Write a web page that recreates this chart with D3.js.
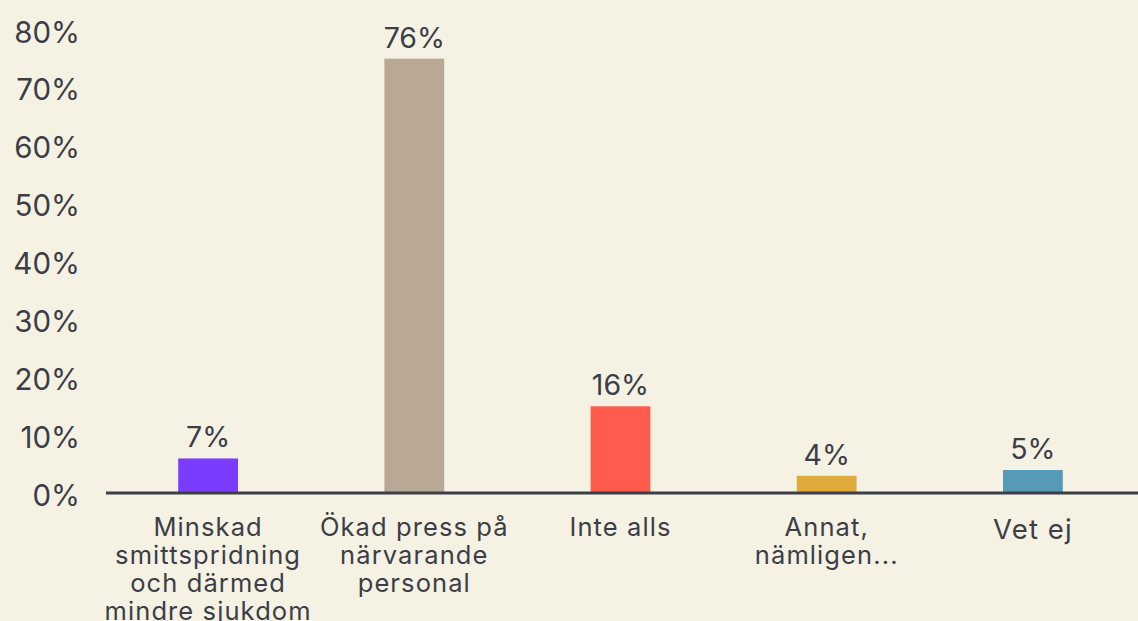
<!DOCTYPE html>
<html>
<head>
<meta charset="utf-8">
<script src="https://cdn.jsdelivr.net/npm/d3@7"></script>
<style>
  html, body { margin: 0; padding: 0; background: #f5f2e3; }
  svg { display: block; }
  text { font-family: "Inter", "Open Sans", sans-serif; fill: #3b3e47; }
</style>
</head>
<body>
<div id="chart"></div>
<script>
const categories = [
  "Minskad smittspridning och därmed mindre sjukdom",
  "Ökad press på närvarande personal",
  "Inte alls",
  "Annat, nämligen...",
  "Vet ej"
];
const categoryLines = [
  ["Minskad", "smittspridning", "och därmed", "mindre sjukdom"],
  ["Ökad press på", "närvarande", "personal"],
  ["Inte alls"],
  ["Annat,", "nämligen..."],
  ["Vet ej"]
];
const values = [7, 76, 16, 4, 5];
const valueLabels = ["7%", "76%", "16%", "4%", "5%"];
const colors = ["#7a3cff", "#b8a895", "#ff5c4d", "#dfaa3b", "#559bb8"];
const yTicks = [0, 10, 20, 30, 40, 50, 60, 70, 80];

const W = 1138, H = 621;
const svg = d3.select("#chart").append("svg").attr("width", W).attr("height", H);
svg.append("rect").attr("width", W).attr("height", H).attr("fill", "#f5f2e3");

const x = d3.scaleBand().domain(categories).range([105, 1136]).paddingInner(0.71).paddingOuter(0.355);
const y = d3.scaleLinear().domain([0, 80]).range([499, 35.5]);
const axisY = y(0) - 6;

// y tick labels
svg.append("g").selectAll("text").data(yTicks).join("text")
  .attr("x", 80).attr("y", d => y(d) - 4)
  .attr("text-anchor", "end").attr("dominant-baseline", "central")
  .style("font-size", "29.5px")
  .text(d => d + "%");

// bars
svg.append("g").selectAll("rect").data(values).join("rect")
  .attr("x", (d, i) => x(categories[i]))
  .attr("width", x.bandwidth())
  .attr("y", d => y(d))
  .attr("height", d => axisY - y(d))
  .attr("fill", (d, i) => colors[i]);

// value labels
svg.append("g").selectAll("text").data(values).join("text")
  .attr("x", (d, i) => x(categories[i]) + x.bandwidth() / 2)
  .attr("y", d => y(d) - 11)
  .attr("text-anchor", "middle")
  .style("font-size", "28.5px")
  .text((d, i) => valueLabels[i]);

// axis line
svg.append("line").attr("x1", 106).attr("x2", W).attr("y1", axisY).attr("y2", axisY)
  .attr("stroke", "#3b3e47").attr("stroke-width", 3);

// category labels
const catG = svg.append("g");
categories.forEach((c, i) => {
  const cx = x(c) + x.bandwidth() / 2;
  const single = i === categories.length - 1;
  const t = catG.append("text").attr("x", cx).attr("y", single ? 539 : 536)
    .attr("text-anchor", "middle")
    .style("font-size", single ? "27.5px" : "25.5px")
    .style("letter-spacing", "1.1px");
  categoryLines[i].forEach((ln, k) => {
    t.append("tspan").attr("x", cx).attr("dy", k === 0 ? 0 : 28).text(ln);
  });
});
</script>
</body>
</html>
